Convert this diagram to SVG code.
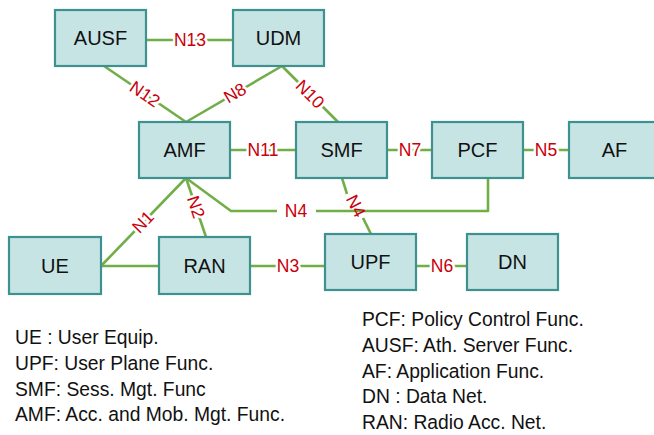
<svg xmlns="http://www.w3.org/2000/svg" width="654" height="435" viewBox="0 0 654 435">
<style>
.box{fill:#C7E4E4;stroke:#3D918F;stroke-width:2.2}
.nl{font-family:"Liberation Sans",Arial,sans-serif;font-size:20px;fill:#111;text-anchor:middle}
.ln{fill:none;stroke:#72AE48;stroke-width:2.6;stroke-linejoin:round}
.el{font-family:"Liberation Sans",Arial,sans-serif;font-size:17.5px;fill:#C8000A;text-anchor:middle;stroke:#fff;stroke-width:5;paint-order:stroke;stroke-linejoin:round}
.el2{font-family:"Liberation Sans",Arial,sans-serif;font-size:17.5px;fill:#C8000A;text-anchor:middle}
.lg{font-family:"Liberation Sans",Arial,sans-serif;font-size:19.3px;fill:#111}
</style>
<rect width="654" height="435" fill="#fff"/>
<g id="connectors">
<line class="ln" x1="146" y1="40" x2="233" y2="40"/>
<line class="ln" x1="104" y1="66" x2="186" y2="122"/>
<line class="ln" x1="282" y1="66" x2="186" y2="122"/>
<line class="ln" x1="282" y1="66" x2="338" y2="122"/>
<line class="ln" x1="230" y1="150" x2="296" y2="150"/>
<line class="ln" x1="387" y1="150" x2="432" y2="150"/>
<line class="ln" x1="523" y1="150" x2="569" y2="150"/>
<line class="ln" x1="186" y1="178" x2="101" y2="266"/>
<line class="ln" x1="186" y1="178" x2="206" y2="237"/>
<polyline class="ln" points="186,178 231,211 277,211"/>
<polyline class="ln" points="316,211 488,211 488,178"/>
<line class="ln" x1="342" y1="178" x2="347" y2="194"/>
<line class="ln" x1="363" y1="218" x2="371" y2="234"/>
<line class="ln" x1="101" y1="266" x2="159" y2="266"/>
<line class="ln" x1="250" y1="266" x2="325" y2="266"/>
<line class="ln" x1="416" y1="266" x2="467" y2="266"/>
<text class="el" x="190" y="46">N13</text>
<text class="el" transform="translate(145,94) rotate(34.3)" y="6">N12</text>
<text class="el" transform="translate(235,93) rotate(-30.3)" y="6">N8</text>
<text class="el" transform="translate(310,94) rotate(45)" y="6">N10</text>
<text class="el" x="263" y="156">N11</text>
<text class="el" x="410" y="156">N7</text>
<text class="el" x="546" y="156">N5</text>
<text class="el" transform="translate(143,222) rotate(-46)" y="6">N1</text>
<text class="el" transform="translate(196,207) rotate(71.3)" y="6">N2</text>
<text class="el2" x="296" y="217">N4</text>
<text class="el2" transform="translate(356,206) rotate(62.6)" y="6">N4</text>
<text class="el" x="288" y="272">N3</text>
<text class="el" x="442" y="272">N6</text>
</g>
<g id="AUSF"><rect class="box" x="55" y="10" width="91" height="56"/><text class="nl" x="100.5" y="45">AUSF</text></g>
<g id="UDM"><rect class="box" x="233" y="10" width="91" height="56"/><text class="nl" x="278.5" y="45">UDM</text></g>
<g id="AMF"><rect class="box" x="139" y="122" width="91" height="56"/><text class="nl" x="184.5" y="157">AMF</text></g>
<g id="SMF"><rect class="box" x="296" y="122" width="91" height="56"/><text class="nl" x="341.5" y="157">SMF</text></g>
<g id="PCF"><rect class="box" x="432" y="122" width="91" height="56"/><text class="nl" x="477.5" y="157">PCF</text></g>
<g id="AF"><rect class="box" x="569" y="122" width="91" height="56"/><text class="nl" x="614.5" y="157">AF</text></g>
<g id="UE"><rect class="box" x="9" y="237" width="92" height="57"/><text class="nl" x="55" y="273">UE</text></g>
<g id="RAN"><rect class="box" x="159" y="237" width="91" height="57"/><text class="nl" x="204.5" y="273">RAN</text></g>
<g id="UPF"><rect class="box" x="325" y="234" width="91" height="56"/><text class="nl" x="370.5" y="269">UPF</text></g>
<g id="DN"><rect class="box" x="467" y="234" width="91" height="56"/><text class="nl" x="512.5" y="269">DN</text></g>
<g id="legend">
<text class="lg" x="15" y="344">UE : User Equip.</text>
<text class="lg" x="15" y="370">UPF: User Plane Func.</text>
<text class="lg" x="15" y="395.5">SMF: Sess. Mgt. Func</text>
<text class="lg" x="15" y="421">AMF: Acc. and Mob. Mgt. Func.</text>
<text class="lg" x="362" y="326">PCF: Policy Control Func.</text>
<text class="lg" x="362" y="352">AUSF: Ath. Server Func.</text>
<text class="lg" x="362" y="377.5">AF: Application Func.</text>
<text class="lg" x="362" y="403">DN : Data Net.</text>
<text class="lg" x="362" y="428.5">RAN: Radio Acc. Net.</text>
</g>
</svg>
